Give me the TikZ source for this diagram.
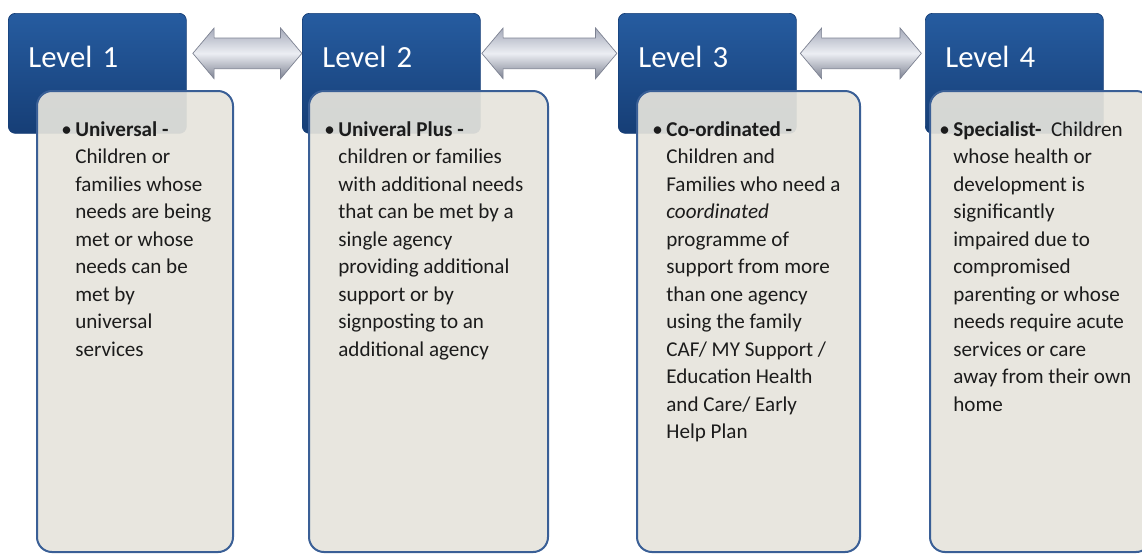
\documentclass[tikz,border=0pt]{standalone}
\usepackage{fontspec}
\setmainfont{Carlito}
\usetikzlibrary{shapes.arrows,positioning,calc}
\definecolor{lvlblue}{RGB}{38,92,160}
\definecolor{lvldark}{RGB}{22,62,118}
\definecolor{boxfill}{RGB}{230,228,220}
\definecolor{boxline}{RGB}{58,95,150}
\definecolor{txtgray}{RGB}{28,28,28}
\definecolor{arrtop}{RGB}{165,170,186}
\definecolor{arrmid}{RGB}{236,238,243}
\definecolor{arrbot}{RGB}{125,130,146}
\tikzset{%
levelbox/.style={rectangle, rounded corners=1.4mm, draw=lvldark, top color=lvlblue, bottom color=lvldark, inner xsep=4mm, inner ysep=0pt, text width=27.6mm, align=left, text height=10.8mm, text depth=13.2mm, text=white, font=\fontsize{17.5}{20}\selectfont, anchor=north west},
notebox/.style={rectangle, rounded corners=3mm, draw=boxline, line width=0.4mm, fill=boxfill, fill opacity=0.92, minimum height=92.2mm, anchor=north west},
notetext/.style={inner sep=0pt, align=left, anchor=north west, text=txtgray, font=\fontsize{12}{15.65}\selectfont},
linkarrow/.style={double arrow, draw=arrbot, thin, top color=arrtop, bottom color=arrbot, middle color=arrmid, inner xsep=0pt, inner ysep=3mm, double arrow head extend=2mm, double arrow tip angle=100}
}
\newcommand{\bul}{\llap{\textbullet\hspace{2pt}}}
\begin{document}
\begin{tikzpicture}[x=0.2mm, y=-0.2mm]
	\useasboundingbox (0,0) rectangle (1142,553);
	\node[levelbox] (h1) at (8,13) {Level 1};
	\node[levelbox] (h2) at (302,13) {Level 2};
	\node[levelbox] (h3) at (618,13) {Level 3};
	\node[levelbox] (h4) at (925,13) {Level 4};
	
	\node[notebox, minimum width=39.2mm] (b1) at (36,90) {};
	\node[notebox, minimum width=47.8mm] (b2) at (308,90) {};
	\node[notebox, minimum width=44.6mm] (b3) at (636,90) {};
	\node[notebox, minimum width=44.2mm] (b4) at (929,90) {};
	
	\node[notetext] (t1) at ([shift={(39,31)}]b1.north west) {\bul\textbf{Universal -}\\Children or\\families whose\\needs are being\\met or whose\\needs can be\\met by\\universal\\services};
	\node[notetext] (t2) at ([shift={(30,31)}]b2.north west) {\bul\textbf{Univeral Plus -}\\children or families\\with additional needs\\that can be met by a\\single agency\\providing additional\\support or by\\signposting to an\\additional agency};
	\node[notetext] (t3) at ([shift={(30,31)}]b3.north west) {\bul\textbf{Co-ordinated -}\\Children and\\Families who need a\\\textit{coordinated}\\programme of\\support from more\\than one agency\\using the family\\CAF/ MY Support /\\Education Health\\and Care/ Early\\Help Plan};
	\node[notetext] (t4) at ([shift={(24,31)}]b4.north west) {\bul\textbf{Specialist-}\ \ Children\\whose health or\\development is\\significantly\\impaired due to\\compromised\\parenting or whose\\needs require acute\\services or care\\away from their own\\home};
	
	\node[linkarrow, minimum height=21.8mm] (a12) at ($(h1.east)!0.5!(h2.west)$) [xshift=0.6mm, yshift=4mm] {};
	\node[linkarrow, minimum height=27mm] (a23) at ($(h2.east)!0.5!(h3.west)$) [yshift=4mm] {};
	\node[linkarrow, minimum height=24.2mm] (a34) at ($(h3.east)!0.5!(h4.west)$) [yshift=4mm] {};
\end{tikzpicture}
\end{document}
